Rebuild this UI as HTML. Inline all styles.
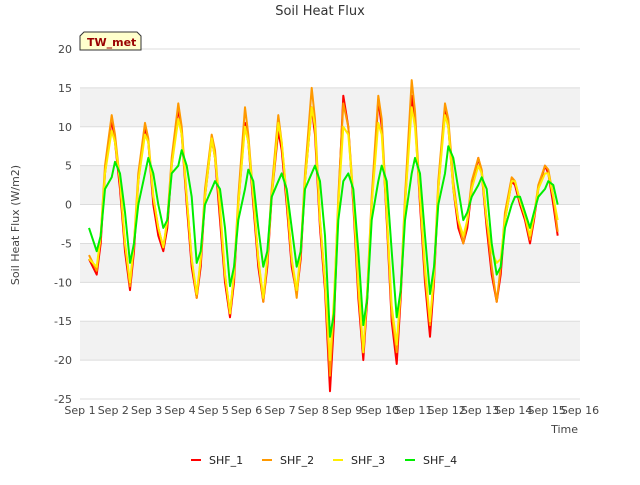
<!DOCTYPE html>
<html><head><meta charset="utf-8"><style>
body{margin:0;background:#fff;font-family:"Liberation Sans",sans-serif}
svg text{font-family:"DejaVu Sans","Liberation Sans",sans-serif}
</style></head><body>
<svg id="c" width="640" height="480" xmlns="http://www.w3.org/2000/svg">
<text x="320" y="15" text-anchor="middle" font-size="13" fill="#333">Soil Heat Flux</text>
<g id="bands"></g><g id="grid"></g><g id="ylab"></g><g id="xlab"></g><g id="lines"></g>
<text x="19" y="225" transform="rotate(-90 19 225)" text-anchor="middle" font-size="11" fill="#444">Soil Heat Flux (W/m2)</text>
<text x="578" y="433" text-anchor="end" font-size="11" fill="#444">Time</text>
<g>
<path d="M80,50 L80,36 L84,32 L137,32 L141,36 L141,50 Z" fill="#ffffcc" stroke="#333" stroke-width="1"/>
<text x="87" y="46" font-size="11" font-weight="bold" fill="#990000">TW_met</text></g>
<g id="legend"></g>
</svg>
<script>
const times=[1.27,
1.5,1.62,1.75,1.95,2.05,2.2,2.35,
2.5,2.62,2.75,2.95,3.05,3.2,3.35,
3.5,3.62,3.75,3.95,4.05,4.2,4.35,
4.5,4.62,4.75,4.95,5.05,5.2,5.35,
5.5,5.62,5.75,5.95,6.05,6.2,6.35,
6.5,6.62,6.75,6.95,7.05,7.2,7.35,
7.5,7.62,7.75,7.95,8.05,8.2,8.35,
8.5,8.62,8.75,8.9,9.05,9.2,9.35,
9.5,9.62,9.75,9.95,10.05,10.2,10.35,
10.5,10.62,10.75,10.95,11.05,11.2,11.35,
11.5,11.62,11.75,11.95,12.05,12.2,12.35,
12.5,12.62,12.75,12.95,13.05,13.2,13.35,
13.5,13.62,13.75,13.95,14.05,14.2,14.35,
14.5,14.62,14.75,14.95,15.05,15.2,15.33];
const shf1=[-7,
-9,-5,4,11,8,2,-6,
-11,-6,3,10,8,0,-4,
-6,-3,5,12.5,9,0,-8,
-12,-8,1,8.5,6,-2,-10,
-14.5,-10,0,10.5,8,0,-8,
-12.5,-8,1,9.5,7,0,-8,
-11.5,-7,3,12.5,9,-3,-11,
-24,-15,0,14,10,0,-12,
-20,-12,0,13.5,10,-2,-15,
-20.5,-12,0,14,11,0,-10,
-17,-10,2,12.5,10,2,-3,
-5,-3,2,6,4,-3,-9,
-12.5,-9,-2,3,2.5,0,-2,
-5,-2,2,5,4,0,-4];
const shf2=[-6.5,
-8.5,-4,5,11.5,9,3,-5,
-10.5,-5,4,10.5,8.5,1,-3,
-5.5,-2,6,13,10,1,-7,
-12,-7,2,9,7,-1,-9,
-14,-9,1,12.5,9,1,-7,
-12.5,-7,2,11.5,8,1,-7,
-12,-6,4,15,11,-2,-10,
-22,-13,1,13,10,1,-11,
-19,-11,1,14,11,-1,-14,
-19,-11,1,16,12,1,-9,
-15.5,-9,3,13,11,3,-2,
-5,-2,3,6,4.5,-2,-8,
-12.5,-8,-1,3.5,3,0.5,-1.5,
-4.5,-1.5,2.5,5,4.5,1,-3.5];
const shf3=[-7,
-8,-4,4,9.5,8,3,-5,
-10,-5,3,9,8,1,-3,
-5.5,-2,5,11,9,1,-7,
-11.5,-7,1,8.5,6,0,-9,
-14,-9,0,10,8,1,-7,
-12,-7,1,10.5,8,1,-7,
-11,-6,3,12.5,10,-2,-10,
-20,-12,0,10,9,1,-10,
-19,-11,0,10.5,9,-1,-13,
-18,-11,0,12.5,10,1,-8,
-15,-9,2,11.5,10,2,-2,
-4,-2,2,5,4,-2,-6,
-7.5,-7,-2,3,3,0.5,-1.5,
-4,-1.5,2,4,4,1,-2];
const shf4=[-3,
-6,-4,2,3.5,5.5,4,-1,
-7.5,-5,0,4,6,4,0,
-3,-2,4,5,7,5,1,
-7.5,-6,0,2,3,2,-3,
-10.5,-8,-2,2,4.5,3,-3,
-8,-6,1,3,4,2,-3,
-8,-6,2,4,5,3,-4,
-17,-14,-2,3,4,2,-6,
-15.5,-12,-2,3,5,3,-6,
-14.5,-11,-2,4,6,4,-4,
-11.5,-8,0,4,7.5,6,2,
-2,-1,1,2.5,3.5,2,-5,
-9,-8,-3,0,1,1,-1,
-3,-1,1,2,3,2.5,0];
const yTicks=[20,15,10,5,0,-5,-10,-15,-20,-25];
const xTicks=["Sep 1","Sep 2","Sep 3","Sep 4","Sep 5","Sep 6","Sep 7","Sep 8","Sep 9","Sep 10","Sep 11","Sep 12","Sep 13","Sep 14","Sep 15","Sep 16"];
const series=[["SHF_1",shf1,"#ff0000"],["SHF_2",shf2,"#ff9900"],["SHF_3",shf3,"#ffee00"],["SHF_4",shf4,"#00ee00"]];
const X0=80,X1=580,Y0=49,Y1=399;
const xs=d=>X0+(d-1)/15*(X1-X0);
const ys=v=>Y0+(20-v)/45*(Y1-Y0);
const NS="http://www.w3.org/2000/svg";
function mk(t,a,p){const e=document.createElementNS(NS,t);for(const k in a)e.setAttribute(k,a[k]);p.appendChild(e);return e;}
const bands=document.getElementById('bands'),grid=document.getElementById('grid'),yl=document.getElementById('ylab'),xl=document.getElementById('xlab'),ln=document.getElementById('lines'),lg=document.getElementById('legend');
[[15,10],[5,0],[-5,-10],[-15,-20]].forEach(b=>{const r=mk('rect',{x:X0,y:ys(b[0]),width:X1-X0,height:ys(b[1])-ys(b[0]),fill:'#f2f2f2'},bands);

});
yTicks.forEach(v=>{const l=mk('line',{x1:X0,x2:X1,y1:ys(v),y2:ys(v),stroke:'#dcdcdc'},grid);


const t=mk('text',{x:72,y:ys(v)+4,'text-anchor':'end','font-size':11,fill:'#444'},yl);t.textContent=v;

});
xTicks.forEach((s,i)=>{const t=mk('text',{x:xs(i+1),y:414,'text-anchor':'middle','font-size':11,fill:'#444'},xl);t.textContent=s;

});
series.forEach((s,k)=>{const p=mk('polyline',{points:times.map((t,i)=>xs(t).toFixed(1)+','+ys(s[1][i]).toFixed(1)).join(' '),fill:'none',stroke:s[2],'stroke-width':2,'stroke-linejoin':'round'},ln);


const lx=[191,262,333,405][k];
const g=mk('g',{},lg);


mk('line',{x1:lx,x2:lx+10,y1:460,y2:460,stroke:s[2],'stroke-width':2},g);
const t=mk('text',{x:lx+18,y:464,'font-size':11,fill:'#222'},g);t.textContent=s[0];});
</script>
</body></html>
